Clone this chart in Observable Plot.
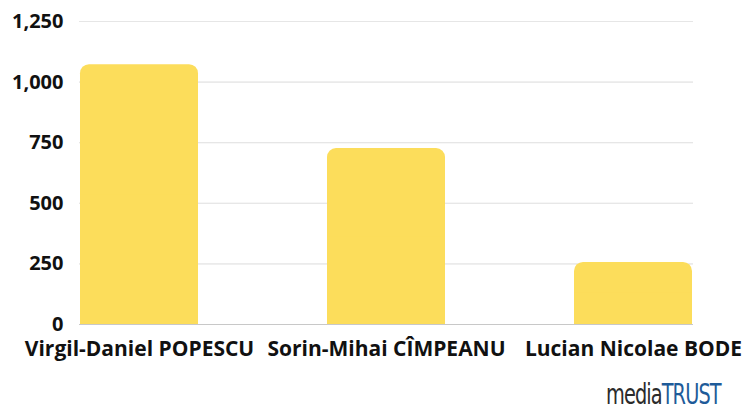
<!DOCTYPE html>
<html><head><meta charset="utf-8">
<script src="https://cdn.jsdelivr.net/npm/d3@7"></script>
<script src="https://cdn.jsdelivr.net/npm/@observablehq/plot@0.6"></script>
<style>
body{margin:0;background:#fff;font-family:"Open Sans",sans-serif;}
#wrap{position:relative;width:743px;height:413px;}
#logo{position:absolute;left:606px;top:377px;font-family:"DejaVu Sans Condensed","DejaVu Sans",sans-serif;font-size:29px;letter-spacing:-1.2px;transform:scaleX(0.74);transform-origin:left top;white-space:nowrap;}
#logo .m{color:#2b2b2b}
#logo .t{color:#1e5b99}
</style></head>
<body><div id="wrap"><div id="chart"></div><div id="logo"><span class="m">media</span><span class="t">TRUST</span></div></div>
<script>
const names = ["Virgil-Daniel POPESCU", "Sorin-Mihai CÎMPEANU", "Lucian Nicolae BODE"];
const values = [1072, 726, 256];
const yTicks = [0, 250, 500, 750, 1000, 1250];
const data = names.map((n, i) => ({name: n, value: values[i]}));
const color = "#FCDD5B";
const chart = Plot.plot({
  width: 743, height: 370,
  marginTop: 21, marginBottom: 46, marginLeft: 79, marginRight: 50,
  style: {fontFamily: "'Open Sans', sans-serif", fontSize: "21px", fontWeight: "700", color: "#111", background: "#fff"},
  x: {domain: names, paddingInner: 0.523, paddingOuter: 0, label: null, tickSize: 0, tickPadding: 17},
  y: {domain: [0, 1250], ticks: yTicks, label: null, tickSize: 0, tickPadding: 16, grid: true, tickFormat: d3.format(",")},
  marks: [
    Plot.gridY(yTicks, {stroke: "#e6e6e6", strokeOpacity: 1}),
    Plot.barY(data, {x: "name", y: "value", fill: color, rx: 9}),
    Plot.barY(data, {x: "name", y1: 0, y2: d => d.value / 2, fill: color}),
    Plot.ruleY([0], {stroke: "#c8c8c8"}),
    Plot.axisX({tickSize: 0, tickPadding: 17, fontSize: 21, fontWeight: 700, fill: "#111"}),
    Plot.axisY({ticks: yTicks, tickSize: 0, tickPadding: 16, tickFormat: d3.format(","), fontSize: 20, fontWeight: 700, fill: "#111"})
  ]
});
document.getElementById("chart").appendChild(chart);
</script></body></html>
